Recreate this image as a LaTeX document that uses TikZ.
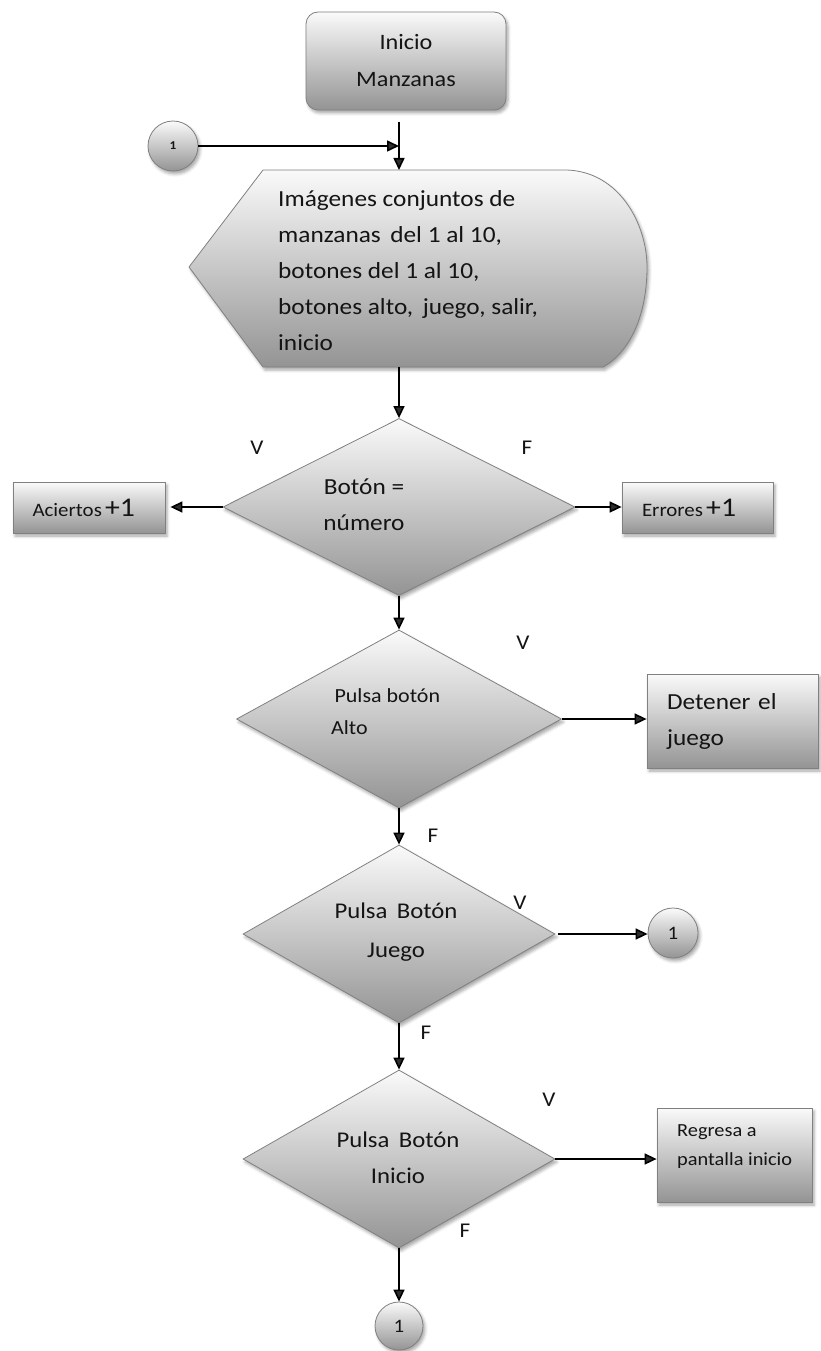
\documentclass[tikz,border=0pt]{standalone}
\usepackage{fontspec}
\setmainfont[FakeStretch=1.1]{Carlito}
\usetikzlibrary{shapes.geometric,arrows.meta,shadows.blur}

\tikzset{
  shaded/.style={top color=black!2, bottom color=black!42, draw=black!50, line width=0.8pt,
    blur shadow={shadow xshift=2pt, shadow yshift=-3pt, shadow blur radius=3pt, shadow opacity=35}},
  box/.style={shaded, rectangle, inner sep=0pt},
  decision/.style={shaded, diamond, inner sep=0pt},
  connector/.style={shaded, circle, inner sep=0pt, minimum size=50pt},
  txt/.style={inner sep=0pt, text=black!92},
  flag/.style={txt, font=\fontsize{21}{21}\selectfont},
  flow/.style={line width=1.6pt, -{Triangle[length=12pt,width=11pt]}},
}

\begin{document}
\begin{tikzpicture}[x=1pt, y=-1pt]
\useasboundingbox (0,0) rectangle (820,1351);

% start terminal and first connector
\node[box, rounded corners=12pt, minimum width=200pt, minimum height=98pt,
      align=center, text=black!92, font=\fontsize{22}{37}\selectfont] (start) at (406,61) {Inicio\\Manzanas};
\node[connector, minimum size=50pt, text=black!92, font=\fontsize{12}{12}\selectfont\bfseries] (cin) at (173,146) {1};
\coordinate (join) at (399,146);
\coordinate (startout) at (399,122);

% display shape
\coordinate (disp-n) at (399,170);
\coordinate (disp-s) at (399,367);
\path[shaded] (263,170) -- (567,170) .. controls (620,172) and (647,225) .. (647,267)
  .. controls (647,315) and (630,352) .. (603,367) -- (263,367) -- (189,267) -- cycle;
\node[txt, anchor=west, align=left, font=\fontsize{23}{36}\selectfont] (disptext) at (278,271)
  {Imágenes conjuntos de\\manzanas\, del 1 al 10,\\botones del 1 al 10,\\botones alto,\, juego, salir,\\inicio};

% decisions
\node[decision, minimum width=352pt, minimum height=177pt] (d1) at (399,507) {};
\node[txt, align=center, font=\fontsize{23}{36}\selectfont] (t1) at (364,505) {Botón =\\número};
\node[decision, minimum width=325pt, minimum height=178pt] (d2) at (399,719) {};
\node[txt, anchor=west, align=left, font=\fontsize{20}{32}\selectfont] (t2) at (331,712) {\,Pulsa botón\\Alto};
\node[decision, minimum width=312pt, minimum height=178pt] (d3) at (399,934) {};
\node[txt, align=center, font=\fontsize{22.5}{39}\selectfont] (t3) at (396,932) {Pulsa\, Botón\\Juego};
\node[decision, minimum width=312pt, minimum height=178pt] (d4) at (399,1159) {};
\node[txt, align=center, font=\fontsize{22.5}{36}\selectfont] (t4) at (398,1158) {Pulsa\, Botón\\Inicio};

% side boxes
\node[box, minimum height=51pt, text width=113pt, inner xsep=19.5pt, align=left, text=black!92,
      font=\fontsize{19}{19}\selectfont] (aciertos) at (89,507.5)
  {Aciertos\,{\fontsize{27}{27}\selectfont+1}};
\node[box, minimum height=51pt, text width=111pt, inner xsep=20pt, align=left, text=black!92,
      font=\fontsize{19}{19}\selectfont] (errores) at (697.5,507.5)
  {Errores\,{\fontsize{27}{27}\selectfont+1}};
\node[box, minimum height=94pt, text width=131pt, inner xsep=20pt, align=left, text=black!92,
      font=\fontsize{23}{36}\selectfont] (detener) at (732.5,721) {Detener el\\juego};
\node[connector, text=black!92, font=\fontsize{19}{19}\selectfont] (cout) at (673,933) {1};
\node[box, minimum width=155pt, minimum height=94pt] (regresa) at (734.5,1155) {};
\node[txt, anchor=west, align=left, font=\fontsize{18.5}{29}\selectfont] (regtext) at (677,1146.5) {Regresa a\\pantalla inicio};
\node[connector, minimum size=48pt, text=black!92, font=\fontsize{19}{19}\selectfont] (cend) at (399,1326) {1};

% V / F labels
\node[flag] (v1) at (257,448) {V};
\node[flag] (f1) at (527,448) {F};
\node[flag] (v2) at (523,643) {V};
\node[flag] (f2) at (433,836) {F};
\node[flag] (v3) at (520,903) {V};
\node[flag] (f3) at (426,1033) {F};
\node[flag] (v4) at (549,1100) {V};
\node[flag] (f4) at (465,1231) {F};

% connectors
\draw[flow] (cin.east) -- (join);
\draw[flow] (startout) -- (disp-n);
\draw[flow] (disp-s) -- (d1.north);
\draw[flow, shorten >=5pt] (d1.west) -- (d1.west -| aciertos.east);
\draw[flow] (d1.east) -- (d1.east -| errores.west);
\draw[flow] (d1.south) -- (d2.north);
\draw[flow] (d2.east) -- (d2.east -| detener.west);
\draw[flow] (d2.south) -- (d3.north);
\draw[flow, shorten <=3pt] (d3.east) -- (d3.east -| cout.west);
\draw[flow] (d3.south) -- (d4.north);
\draw[flow] (d4.east) -- (d4.east -| regresa.west);
\draw[flow] (d4.south) -- (cend.north);
\end{tikzpicture}
\end{document}
